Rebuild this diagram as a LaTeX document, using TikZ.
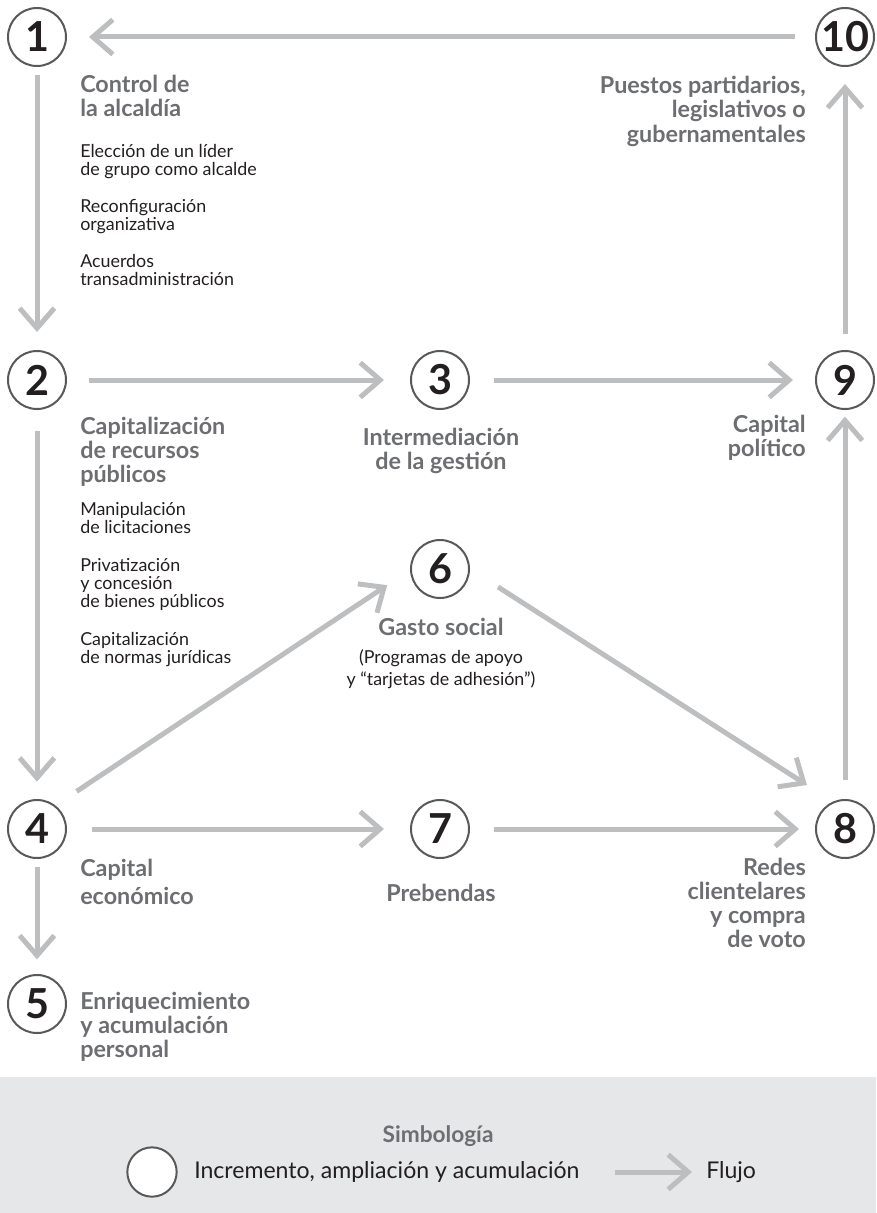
\documentclass[tikz,border=0pt]{standalone}
\usepackage{fontspec}
\setmainfont{Lato}
\usetikzlibrary{arrows.meta}
\definecolor{flowgray}{HTML}{BCBEC0}
\definecolor{ringgray}{HTML}{58595B}
\definecolor{headgray}{HTML}{6D6E71}
\definecolor{inkblack}{HTML}{231F20}
\definecolor{legendbg}{HTML}{E6E7E8}
\tikzset{
  num/.style={circle, draw=ringgray, line width=1.5pt, fill=white, minimum size=43.5pt, inner sep=0pt, text=inkblack, font=\bfseries\fontsize{31}{31}\selectfont},
  flow/.style={draw=flowgray, line width=3.75pt, -{Straight Barb[length=15pt,width=26pt]}},
  head/.style={inner sep=0pt, text=headgray, font=\bfseries\fontsize{17.5}{18}\selectfont},
  item/.style={inner sep=0pt, text=inkblack, font=\fontsize{13.4}{13.5}\selectfont},
}
\begin{document}
\begin{tikzpicture}[x=0.75pt,y=-0.75pt]
    \useasboundingbox (0,0) rectangle (876,1213);
    \node[num] (n1)  at (37,37)   {1};
    \node[num] (n10) at (845,37)  {10};
    \node[num] (n2)  at (37,380)  {2};
    \node[num] (n3)  at (440,380) {3};
    \node[num] (n9)  at (845,380) {9};
    \node[num] (n6)  at (440,569) {6};
    \node[num] (n4)  at (37,829)  {4};
    \node[num] (n7)  at (440,829) {7};
    \node[num] (n8)  at (845,829) {8};
    \node[num] (n5)  at (37,1004) {5};
    \draw[flow, shorten <=15pt, shorten >=16.5pt] (n10) -- (n1);
    \draw[flow, shorten <=6pt, shorten >=13.5pt]  (n1) -- (n2);
    \draw[flow, shorten <=16.5pt, shorten >=19.5pt] (n2) -- (n3);
    \draw[flow, shorten <=18pt, shorten >=16.5pt] (n3) -- (n9);
    \draw[flow, shorten <=12pt, shorten >=12.75pt] (n9) -- (n10);
    \draw[flow, shorten <=14pt, shorten >=5pt]    (n8) -- (n9);
    \draw[flow, shorten <=16pt, shorten >=13pt]   (n2) -- (n4);
    \draw[flow, shorten <=19pt, shorten >=20.5pt] (n4.52) -- (n6.182);
    \draw[flow, shorten <=25pt, shorten >=23pt]   (n6.east) -- (n8.114);
    \draw[flow, shorten <=19pt, shorten >=19.5pt] (n4) -- (n7);
    \draw[flow, shorten <=18pt, shorten >=12pt]   (n7) -- (n8);
    \draw[flow, shorten <=6pt, shorten >=11pt]    (n4) -- (n5);
    \node[head, anchor=base west, align=left] (t1) at (80,117) {Control de\\la alcaldía};
    \node[item, anchor=base west, align=left] (t1a) at (80,175) {Elección de un líder\\de grupo como alcalde};
    \node[item, anchor=base west, align=left] (t1b) at (80,230) {Reconfiguración\\organizativa};
    \node[item, anchor=base west, align=left] (t1c) at (80,285) {Acuerdos\\transadministración};
    \node[head, anchor=base east, align=right] (t10) at (806,142) {Puestos partidarios,\\legislativos o\\gubernamentales};
    \node[head, anchor=base west, align=left] (t2) at (80,482) {Capitalización\\de recursos\\públicos};
    \node[item, anchor=base west, align=left] (t2a) at (80,533) {Manipulación\\de licitaciones};
    \node[item, anchor=base west, align=left] (t2b) at (80,607) {Privatización\\y concesión\\de bienes públicos};
    \node[item, anchor=base west, align=left] (t2c) at (80,663) {Capitalización\\de normas jurídicas};
    \node[head, anchor=base, align=center] (t3) at (441,469) {Intermediación\\de la gestión};
    \node[head, anchor=base east, align=right] (t9) at (806,456) {Capital\\político};
    \node[head, anchor=base] (t6) at (441,635) {Gasto social};
    \node[item, anchor=base, align=center, font=\fontsize{13.4}{16.5}\selectfont] (t6a) at (441,685) {(Programas de apoyo\\y “tarjetas de adhesión”)};
    \node[head, anchor=base west, align=left, font=\bfseries\fontsize{17.5}{21}\selectfont] (t4) at (80,904) {Capital\\económico};
    \node[head, anchor=base] (t7) at (441,901) {Prebendas};
    \node[head, anchor=base east, align=right] (t8) at (806,947) {Redes\\clientelares\\y compra\\de voto};
    \node[head, anchor=base west, align=left] (t5) at (80,1057) {Enriquecimiento\\y acumulación\\personal};
    \fill[legendbg] (0,1077) rectangle (876,1213);
    \node[head, anchor=base, font=\bfseries\fontsize{17}{18}\selectfont] (lg) at (438,1142) {Simbología};
    \node[circle, draw=ringgray, line width=1.5pt, fill=white, minimum size=37pt] (lgc) at (152,1172) {};
    \node[item, anchor=west, font=\fontsize{17.3}{18}\selectfont] (lgt) at (194,1172) {Incremento, ampliación y acumulación};
    \coordinate (lga) at (615,1172);
    \coordinate (lgb) at (692,1172);
    \draw[flow] (lga) -- (lgb);
    \node[item, anchor=west, font=\fontsize{17.3}{18}\selectfont] (lgf) at (706,1172) {Flujo};
\end{tikzpicture}
\end{document}
